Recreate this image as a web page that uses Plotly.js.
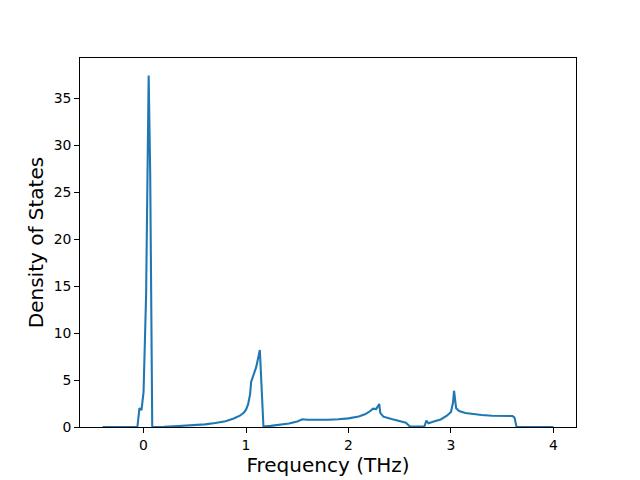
<!DOCTYPE html>
<html><head><meta charset="utf-8">
<script src="https://cdn.plot.ly/plotly-3.0.1.min.js"></script>
<style>body{margin:0;background:#fff}#plot{width:640px;height:480px}</style>
</head><body><div id="plot"></div>
<script>
const freq = [-0.4, -0.06, -0.04, -0.02, 0.0, 0.025, 0.05, 0.065, 0.085,
  0.1, 0.2, 0.34, 0.5, 0.6, 0.7, 0.8, 0.88, 0.94, 0.98, 1.0, 1.02, 1.04, 1.05, 1.07, 1.1, 1.135, 1.155, 1.17,
  1.24, 1.32, 1.42, 1.5, 1.55, 1.6, 1.7, 1.8, 1.9, 2.0, 2.1, 2.16, 2.2, 2.24, 2.27, 2.3, 2.31, 2.34, 2.42, 2.5, 2.56, 2.6,
  2.74, 2.76, 2.78, 2.84, 2.9, 2.96, 3.0, 3.02, 3.03, 3.05, 3.08, 3.14, 3.2, 3.3, 3.4, 3.5, 3.58, 3.6, 3.62, 3.64, 4.0];
const dos = [0, 0, 2.0, 1.8, 3.7, 14, 37.4, 27, 0,
  0, 0.03, 0.1, 0.2, 0.28, 0.42, 0.62, 0.9, 1.2, 1.55, 1.85, 2.4, 3.5, 4.8, 5.5, 6.4, 8.2, 3.0, 0.05,
  0.12, 0.22, 0.38, 0.58, 0.82, 0.78, 0.76, 0.77, 0.83, 0.92, 1.12, 1.35, 1.6, 1.95, 1.9, 2.45, 1.5, 1.1, 0.85, 0.62, 0.45, 0.05,
  0.05, 0.67, 0.4, 0.6, 0.8, 1.2, 1.6, 2.6, 3.86, 2.0, 1.7, 1.5, 1.4, 1.28, 1.2, 1.15, 1.1, 1.17, 1.0, 0, 0];
const xTicks = [0, 1, 2, 3, 4];
const yTicks = [0, 5, 10, 15, 20, 25, 30, 35];

const axisCommon = {
  showline: true, mirror: true, linecolor: '#000', linewidth: 1,
  ticks: 'outside', ticklen: 4.9, tickwidth: 1, tickcolor: '#000',
  showgrid: false, zeroline: false,
  tickfont: {family: 'DejaVu Sans', size: 13.9, color: '#000'}
};
Plotly.newPlot('plot', [{
  x: freq, y: dos, type: 'scatter', mode: 'lines',
  line: {color: '#1f77b4', width: 2.08}
}], {
  width: 640, height: 480,
  margin: {l: 80, r: 64, t: 58, b: 53},
  paper_bgcolor: '#fff', plot_bgcolor: '#fff',
  showlegend: false,
  xaxis: Object.assign({}, axisCommon, {
    range: [-0.62, 4.22], tickvals: xTicks, ticktext: xTicks.map(String),
    title: {text: 'Frequency (THz)', font: {family: 'DejaVu Sans', size: 20, color: '#000'}, standoff: 5}
  }),
  yaxis: Object.assign({}, axisCommon, {
    range: [0, 39.27], tickvals: yTicks, ticktext: yTicks.map(String),
    title: {text: 'Density of States', font: {family: 'DejaVu Sans', size: 20, color: '#000'}, standoff: 4}
  })
}, {staticPlot: true});
</script></body></html>
